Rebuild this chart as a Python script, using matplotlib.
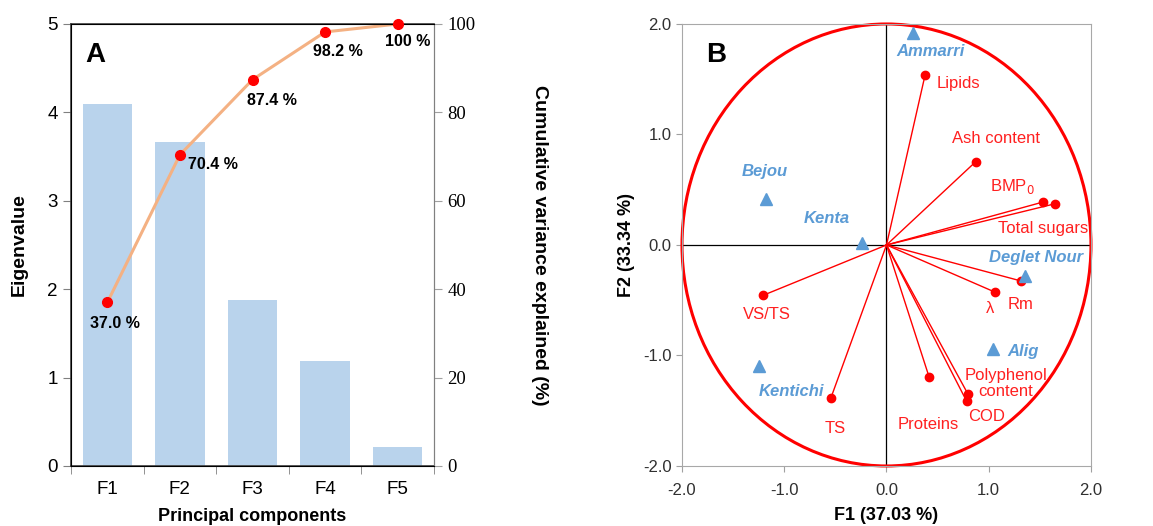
import matplotlib
matplotlib.use("Agg")
import matplotlib.pyplot as plt
from matplotlib.patches import Ellipse

plt.rcParams['font.family'] = ['Liberation Sans', 'DejaVu Sans']

# panel A data
components = ['F1', 'F2', 'F3', 'F4', 'F5']
eigenvalues = [4.09, 3.67, 1.88, 1.19, 0.22]
cumulative = [37.0, 70.4, 87.4, 98.2, 100.0]
cumulative_labels = ['37.0 %', '70.4 %', '87.4 %', '98.2 %', '100 %']

# panel B data: variables (loadings, scaled)
var_names = ['Lipids', 'Ash content', 'BMP$_0$', 'Total sugars', 'Rm', 'λ',
             'VS/TS', 'TS', 'Proteins', 'Polyphenol\ncontent', 'COD']
var_x = [0.378, 0.873, 1.528, 1.648, 1.313, 1.062, -1.205, -0.544, 0.417, 0.795, 0.785]
var_y = [1.54, 0.754, 0.388, 0.373, -0.325, -0.427, -0.455, -1.385, -1.195, -1.346, -1.416]
var_lab_x = [0.704, 1.072, 1.231, 1.534, 1.313, 1.013, -1.169, -0.50, 0.41, 1.169, 0.974]
var_lab_y = [1.458, 0.965, 0.533, 0.149, -0.539, -0.575, -0.63, -1.663, -1.624, -1.255, -1.552]

# observations (date varieties)
obs_names = ['Ammarri', 'Bejou', 'Kenta', 'Deglet Nour', 'Alig', 'Kentichi']
obs_x = [0.257, -1.176, -0.238, 1.358, 1.039, -1.248]
obs_y = [1.917, 0.415, 0.014, -0.277, -0.944, -1.095]
obs_lab_x = [0.427, -1.195, -0.583, 1.463, 1.332, -0.932]
obs_lab_y = [1.75, 0.669, 0.24, -0.113, -0.96, -1.322]

red = '#FF0000'
blue = '#5B9BD5'

fig = plt.figure(figsize=(11.53, 5.26), dpi=100)

# ---- panel A ----
ax = fig.add_axes([0.0616, 0.1141, 0.3148, 0.8403])
xpos = list(range(len(components)))
ax.bar(xpos, eigenvalues, width=0.68, color='#B9D3EC', zorder=1)
ax.set_xlim(-0.5, 4.5)
ax.set_ylim(0, 5)
ax.set_xticks(xpos)
ax.set_xticklabels(components, fontsize=13.5)
ax.set_xticks([i - 0.5 for i in range(6)], minor=True)
ax.tick_params(axis='x', which='major', length=0, pad=11)
ax.tick_params(axis='x', which='minor', length=6, color='#808080', direction='out')
ax.set_yticks(range(6))
ax.tick_params(axis='y', labelsize=13.5, length=6, color='#808080', direction='out')
ax.set_ylabel('Eigenvalue', fontsize=14, fontweight='bold', labelpad=14)
ax.set_xlabel('Principal components', fontsize=13, fontweight='bold', labelpad=7)
for s in ['left', 'bottom', 'top']:
    ax.spines[s].set_color('#404040')
    ax.spines[s].set_linewidth(1.2)
ax.spines['right'].set_color('#808080')
ax.text(0.04, 0.93, 'A', transform=ax.transAxes, fontsize=20, fontweight='bold',
        va='center', ha='left')

ax2 = ax.twinx()
ax2.plot(xpos, cumulative, color='#F4B183', lw=2.2, zorder=2)
ax2.plot(xpos, cumulative, 'o', color=red, ms=7, zorder=3, clip_on=False)
ax2.set_ylim(0, 100)
ax2.set_yticks(range(0, 101, 20))
ax2.tick_params(axis='y', labelsize=13.5, length=6, color='#A0A0A0', direction='out')
for lab in ax2.get_yticklabels():
    lab.set_fontfamily('Liberation Serif')
ax2.spines['right'].set_color('#808080')
ax2.set_ylabel('Cumulative variance explained (%)', fontsize=14, fontweight='bold',
               rotation=270, labelpad=52)
offsets = [(0.11, -4.8), (0.45, -2.3), (0.27, -4.75), (0.18, -4.5), (0.14, -3.85)]
for x, y, t, (dx, dy) in zip(xpos, cumulative, cumulative_labels, offsets):
    ax2.text(x + dx, y + dy, t, fontsize=11.5, fontweight='bold', ha='center', va='center')

# ---- panel B ----
bx = fig.add_axes([0.5915, 0.1141, 0.3547, 0.8403])
bx.set_xlim(-2, 2)
bx.set_ylim(-2, 2)
bx.axhline(0, color='black', lw=0.9, zorder=1)
bx.axvline(0, color='black', lw=0.9, zorder=1)
bx.add_patch(Ellipse((0, 0), 4, 4, fill=False, ec=red, lw=2.2, zorder=2, clip_on=False))
for x, y in zip(var_x, var_y):
    bx.plot([0, x], [0, y], color=red, lw=1, zorder=3)
bx.plot(var_x, var_y, 'o', color=red, ms=6, zorder=4)
for t, x, y in zip(var_names, var_lab_x, var_lab_y):
    bx.text(x, y, t, color='#FF2020', fontsize=12, ha='center', va='center',
            multialignment='center', linespacing=1.05)
bx.plot(obs_x, obs_y, '^', color=blue, ms=8, zorder=4)
for t, x, y in zip(obs_names, obs_lab_x, obs_lab_y):
    bx.text(x, y, t, color=blue, fontsize=12, fontweight='bold', style='italic',
            ha='center', va='center')
ticks = [-2, -1, 0, 1, 2]
bx.set_xticks(ticks)
bx.set_yticks(ticks)
bx.set_xticklabels(['%.1f' % t for t in ticks])
bx.set_yticklabels(['%.1f' % t for t in ticks])
bx.tick_params(labelsize=12, length=4, color='#A0A0A0', labelcolor='#303030')
bx.tick_params(axis='x', pad=8)
for s in bx.spines.values():
    s.set_color('#A8A8A8')
bx.set_xlabel('F1 (37.03 %)', fontsize=13, fontweight='bold', labelpad=7)
bx.set_ylabel('F2 (33.34 %)', fontsize=13, fontweight='bold', labelpad=6)
bx.text(0.06, 0.93, 'B', transform=bx.transAxes, fontsize=20, fontweight='bold',
        va='center', ha='left')

fig.savefig('out.png', dpi=100)
